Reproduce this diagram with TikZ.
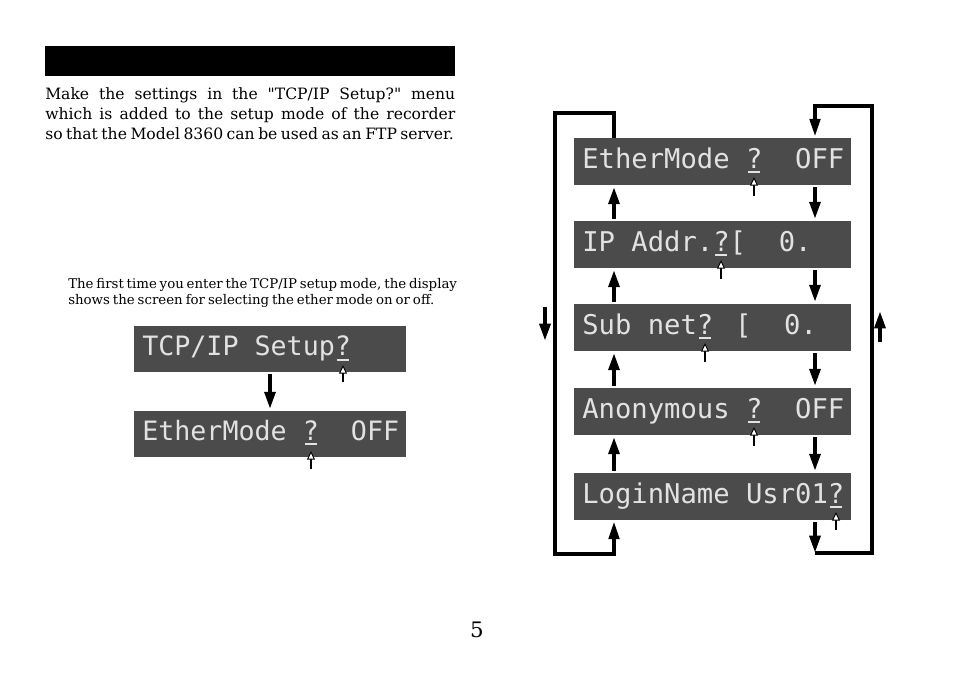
\documentclass[tikz,border=0pt]{standalone}
\usepackage{fontspec}
\newfontfamily\bodyfont{DejaVu Serif}
\newfontfamily\lcdfont{DejaVu Sans Mono}
\usetikzlibrary{arrows.meta}
\definecolor{lcdgray}{HTML}{4B4B4B}
\definecolor{lcdtext}{HTML}{E2E2E2}
\tikzset{
  lcdR/.style={fill=lcdgray, minimum width=207.75pt, minimum height=35.25pt, inner sep=0pt},
  lcdL/.style={fill=lcdgray, minimum width=204pt, minimum height=34.5pt, inner sep=0pt},
  txtR/.style={anchor=base west, inner sep=0pt, text=lcdtext, font=\lcdfont\fontsize{20.4pt}{22pt}\selectfont},
  txtL/.style={anchor=base west, inner sep=0pt, text=lcdtext, font=\lcdfont\fontsize{20pt}{22pt}\selectfont},
  bigarrow/.style={line width=3pt, -{Triangle[length=13pt,width=8pt]}, shorten >=1.2pt, shorten <=1.5pt},
  loopline/.style={line width=2.3pt, line join=miter},
  ptr/.style={line width=0.9pt, -{Triangle[length=6.5pt,width=6pt,fill=white,line width=0.7pt]}},
  uline/.style={draw=lcdtext, line width=1.5pt},
  para/.style={anchor=base west, inner sep=0pt, font=\bodyfont\fontsize{11.7pt}{15pt}\selectfont},
  small/.style={anchor=base west, inner sep=0pt, font=\bodyfont\fontsize{10pt}{12pt}\selectfont}
}
\begin{document}
\begin{tikzpicture}[x=0.75pt,y=-0.75pt]
\path[fill=white, use as bounding box] (0,0) rectangle (954,674);

% header bar and text
\fill[black] (45,46) rectangle (455,76);
\node[para] (p1) at (45,100) {\makebox[307.5pt][s]{Make the settings in the "TCP/IP Setup?" menu}};
\node[para] (p2) at (45,119) {\makebox[307.5pt][s]{which is added to the setup mode of the recorder}};
\node[para] (p3) at (45,139) {\makebox[306.5pt][s]{so that the Model 8360 can be used as an FTP server.}};

\node[small] (s1) at (68,288) {\makebox[289.5pt][s]{The first time you enter the TCP/IP setup mode, the display}};
\node[small] (s2) at (68,304) {\makebox[274.5pt][s]{shows the screen for selecting the ether mode on or off.}};

% left displays
\node[lcdL] (l1) at (270,349) {};
\node[lcdL] (l2) at (270,434) {};
\node[txtL] (lt1) at (142,355) {TCP/IP Setup?};
\node[txtL] (lt2) at (142,440) {EtherMode ?\ \ OFF};
\draw[uline] (337,360) -- (349,360);
\draw[uline] (305,444) -- (317,444);
\coordinate (lp1a) at (343,382); \coordinate (lp1b) at (343,365);
\coordinate (lp2a) at (311,469); \coordinate (lp2b) at (311,451);
\draw[ptr] (lp1a) -- (lp1b);
\draw[ptr] (lp2a) -- (lp2b);
\draw[bigarrow] (l1.south) -- (l2.north);

% right displays
\node[lcdR] (r1) at (712.5,161.5) {};
\node[lcdR] (r2) at (712.5,244.5) {};
\node[lcdR] (r3) at (712.5,327.5) {};
\node[lcdR] (r4) at (712.5,411.5) {};
\node[lcdR] (r5) at (712.5,496.5) {};
\node[txtR] (rt1) at (582,168) {EtherMode ?\ \ OFF};
\node[txtR] (rt2) at (582,251) {IP Addr.?[\ \ 0.};
\node[txtR] (rt3) at (582,334) {Sub net? [\ \ 0.};
\node[txtR] (rt4) at (582,418) {Anonymous ?\ \ OFF};
\node[txtR] (rt5) at (582,503) {LoginName Usr01?};

% underlines under the cursor
\draw[uline] (748,172) -- (760,172);
\draw[uline] (715,255) -- (727,255);
\draw[uline] (699,338) -- (711,338);
\draw[uline] (748,422) -- (760,422);
\draw[uline] (830,507) -- (842,507);

% cursor pointers
\coordinate (p1a) at (754,196); \coordinate (p1b) at (754,177);
\coordinate (p2a) at (721,279); \coordinate (p2b) at (721,260);
\coordinate (p3a) at (705,362); \coordinate (p3b) at (705,343);
\coordinate (p4a) at (754,446); \coordinate (p4b) at (754,427);
\coordinate (p5a) at (836,530); \coordinate (p5b) at (836,512);
\draw[ptr] (p1a) -- (p1b);
\draw[ptr] (p2a) -- (p2b);
\draw[ptr] (p3a) -- (p3b);
\draw[ptr] (p4a) -- (p4b);
\draw[ptr] (p5a) -- (p5b);

% columns
\coordinate (L) at (614,0);
\coordinate (R) at (815,0);
\draw[bigarrow] (r2.north -| L) -- (r1.south -| L);
\draw[bigarrow] (r3.north -| L) -- (r2.south -| L);
\draw[bigarrow] (r4.north -| L) -- (r3.south -| L);
\draw[bigarrow] (r5.north -| L) -- (r4.south -| L);
\draw[bigarrow] (r1.south -| R) -- (r2.north -| R);
\draw[bigarrow] (r2.south -| R) -- (r3.north -| R);
\draw[bigarrow] (r3.south -| R) -- (r4.north -| R);
\draw[bigarrow] (r4.south -| R) -- (r5.north -| R);

% loops
\coordinate (tl) at (555,113);
\coordinate (bl) at (555,554);
\coordinate (tr) at (872,106);
\coordinate (br) at (872,553);
\draw[loopline, -{Triangle[length=13pt,width=8pt]}, shorten >=1.2pt]
  (r1.north -| L) -- (L |- tl) -- (tl) -- (bl) -- (L |- bl) -- (r5.south -| L);
\draw[loopline, -{Triangle[length=13pt,width=8pt]}, shorten >=1.2pt]
  (R |- br) -- (br) -- (tr) -- (R |- tr) -- (r1.north -| R);
\draw[bigarrow, shorten >=0pt] (r5.south -| R) -- (R |- br);

% side arrows
\coordinate (sl1) at (545,307); \coordinate (sl2) at (545,341);
\coordinate (sr1) at (880,342); \coordinate (sr2) at (880,311);
\draw[bigarrow, shorten <=0pt, shorten >=0pt] (sl1) -- (sl2);
\draw[bigarrow, shorten <=0pt, shorten >=0pt] (sr1) -- (sr2);

% page number
\node[anchor=base, inner sep=0pt, font=\bodyfont\fontsize{16pt}{18pt}\selectfont] (pg) at (477,637) {5};
\end{tikzpicture}
\end{document}
